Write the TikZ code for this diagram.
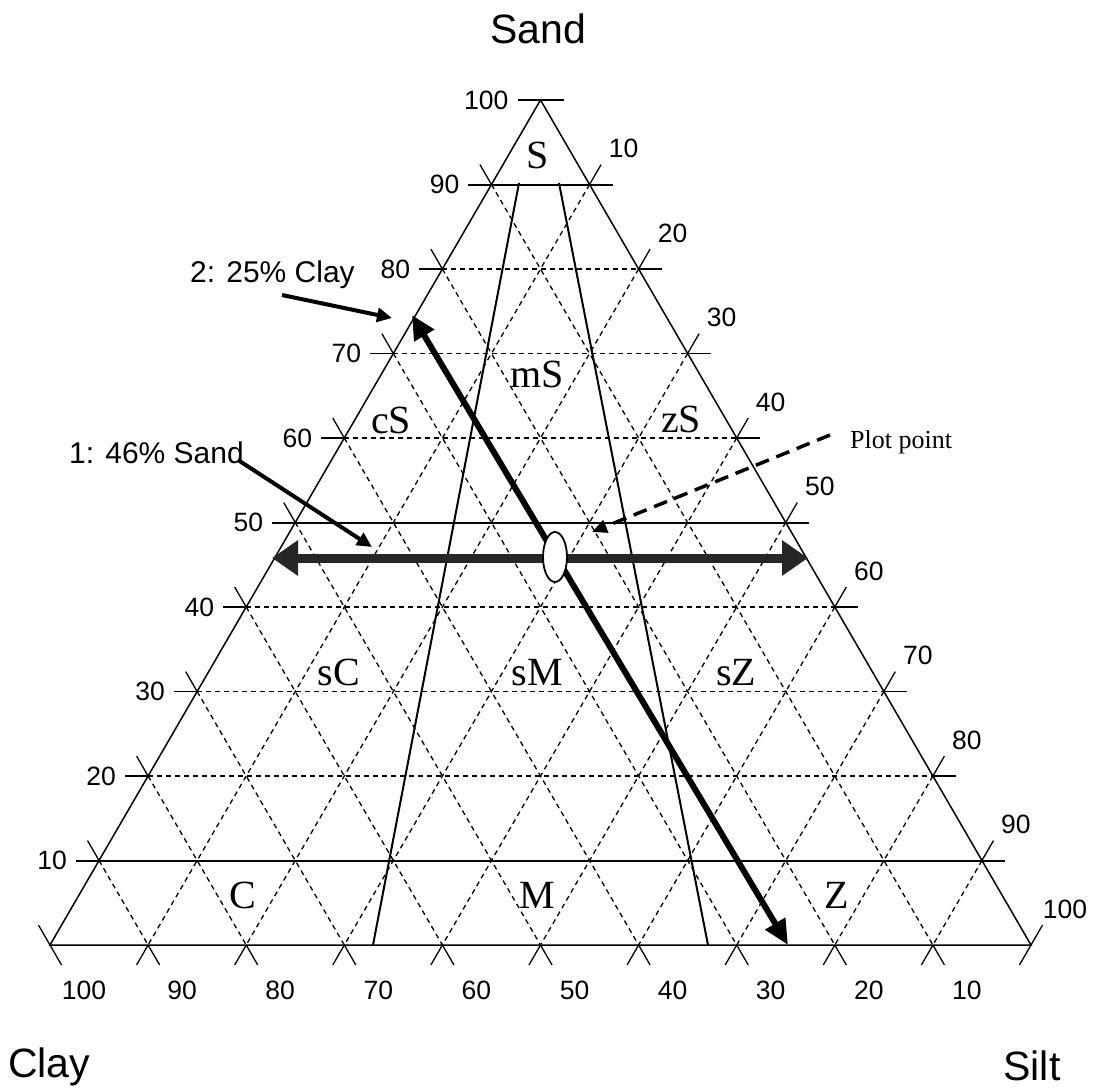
\documentclass[tikz,border=0pt]{standalone}
\usepackage{fontspec}
\setmainfont{Liberation Serif}
\newfontfamily\arialfont{Liberation Sans}
\usetikzlibrary{arrows.meta,calc,shapes.geometric}
\begin{document}
\begin{tikzpicture}[x=1pt,y=-1pt,
  edge/.style={line width=1.5pt},
  gridline/.style={line width=1.3pt, dash pattern=on 5pt off 4pt},
  bnd/.style={line width=2pt},
  tickline/.style={line width=1.3pt},
  num/.style={font=\arialfont\fontsize{26.5}{30}\selectfont, inner sep=0pt},
  titletext/.style={font=\arialfont\fontsize{41}{48}\selectfont, inner sep=0pt},
  region/.style={font=\fontsize{40}{48}\selectfont, inner sep=0pt, anchor=base},
  note/.style={font=\arialfont\fontsize{30}{36}\selectfont, inner sep=0pt, anchor=base west},
  bigarrow/.style={line width=9pt, black!85, {Triangle[length=26pt,width=34pt]}-{Triangle[length=26pt,width=34pt]}},
  diagarrow/.style={line width=6pt, {Triangle[length=24pt,width=22pt]}-{Triangle[length=25pt,width=22pt]}},
  pointer/.style={line width=4pt, -{Triangle[length=15pt,width=14pt]}},
]
\fill[white] (0,0) rectangle (1093,1088);
\useasboundingbox (0,0) rectangle (1093,1088);

% vertices
\coordinate (A) at (540.5,100);
\coordinate (L) at (50,945);
\coordinate (R) at (1031,945);

% dashed grid
\foreach \k in {1,...,9}{
  \coordinate (l\k) at ({50+\k*49.05},{945-\k*84.5});
  \coordinate (r\k) at ({1031-\k*49.05},{945-\k*84.5});
  \draw[gridline] (l\k) -- (r\k);
  \draw[gridline] (l\k) -- ({50+\k*98.1},945);
  \draw[gridline] (r\k) -- ({1031-\k*98.1},945);
}

% horizontal ticks
\foreach \k in {1,...,10}{
  \draw[tickline] ({50+\k*49.05},{945-\k*84.5}) -- ++(-23,0);
  \draw[tickline] ({1031-\k*49.05},{945-\k*84.5}) -- ++(23,0);
}
% slanted ticks
\foreach \k in {0,...,9}{
  \draw[tickline] ({50+\k*49.05},{945-\k*84.5}) -- ++(-11.5,-19.92);
  \draw[tickline] ({50+\k*98.1},945) -- ++(11.5,19.92);
  \draw[tickline] ({1031-\k*49.05},{945-\k*84.5}) -- ++(11.5,-19.92);
  \draw[tickline] ({1031-\k*98.1},945) -- ++(-11.5,19.92);
}

% triangle
\draw[edge] (A) -- (L) -- (R) -- cycle;

% class boundaries
\foreach \k in {1,5,9}{
  \draw[bnd] ({50+\k*49.05-23},{945-\k*84.5}) -- ({1031-\k*49.05+23},{945-\k*84.5});
}
\coordinate (b1t) at (519,183);
\coordinate (b1b) at (373,945);
\coordinate (b2t) at (559,183);
\coordinate (b2b) at (708,945);
\draw[bnd] (b1t) -- (b1b);
\draw[bnd] (b2t) -- (b2b);

% axis labels
\foreach \k in {1,...,10}{
  \pgfmathtruncatemacro\v{10*\k}
  \node[num, anchor=east] (sl\k) at ({50+\k*49.05-32},{945-\k*84.5}) {\v};
}
\foreach \k in {0,...,9}{
  \pgfmathtruncatemacro\v{100-10*\k}
  \node[num] (zl\k) at ({1031-\k*49.05+34},{945-\k*84.5-36}) {\v};
  \node[num] (cl\k) at ({50+\k*98.1+34},990) {\v};
}

% titles
\node[titletext, anchor=base] (sand) at (538,43) {Sand};
\node[titletext, anchor=base west] (clay) at (8,1077) {Clay};
\node[titletext, anchor=base] (silt) at (1032,1080) {Silt};

% region labels
\node[region] (rS) at (537.5,168) {S};
\node[region] (rmS) at (537.5,387) {mS};
\node[region] (rcS) at (391,433) {cS};
\node[region] (rzS) at (681,432) {zS};
\node[region] (rsC) at (339,685) {sC};
\node[region] (rsM) at (537.5,685) {sM};
\node[region] (rsZ) at (736,685) {sZ};
\node[region] (rC) at (243,908) {C};
\node[region] (rM) at (537.5,908) {M};
\node[region] (rZ) at (837,908) {Z};

% thick arrows
\coordinate (hl) at (272,558);
\coordinate (hr) at (808,558);
\draw[bigarrow] (hl) -- (hr);
\coordinate (dt) at (412,315);
\coordinate (db) at (788,945);
\draw[diagarrow] (dt) -- (db);

% plot point
\node[draw, fill=white, ellipse, minimum width=24pt, minimum height=50pt, line width=1.8pt, inner sep=0pt] (pp) at (555,557) {};

% annotations
\node[note] (n1) at (69,463) {1: 46\% Sand};
\coordinate (n1s) at (238,460);
\coordinate (n1t) at (372,547);
\draw[pointer] (n1s) -- (n1t);

\node[note] (n2) at (190,282) {2: 25\% Clay};
\coordinate (n2s) at (282,295);
\coordinate (n2t) at (392,318);
\draw[pointer] (n2s) -- (n2t);

\node[font=\fontsize{26}{30}\selectfont, anchor=base west, inner sep=0pt] (pl) at (850,448) {Plot point};
\coordinate (pls) at (830,435);
\coordinate (plt) at (592,532);
\draw[line width=3.5pt, dash pattern=on 14pt off 8pt, -{Triangle[length=15pt,width=13pt]}] (pls) -- (plt);
\end{tikzpicture}
\end{document}
